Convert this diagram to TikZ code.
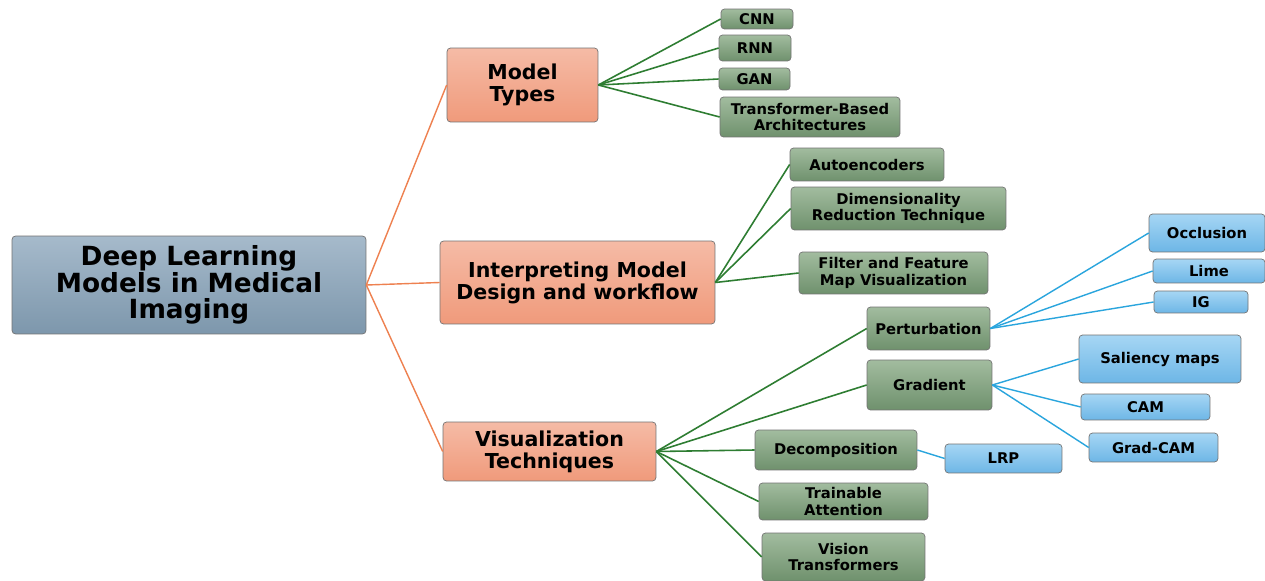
\documentclass[tikz,border=0pt]{standalone}
\usepackage{fontspec}
\setsansfont{DejaVu Sans}
\definecolor{roottop}{HTML}{A6BACB}
\definecolor{rootbot}{HTML}{7D97AC}
\definecolor{orgtop}{HTML}{F5BBA6}
\definecolor{orgbot}{HTML}{F09A7B}
\definecolor{grntop}{HTML}{A2BC9F}
\definecolor{grnbot}{HTML}{6F916D}
\definecolor{blutop}{HTML}{A6D6F4}
\definecolor{blubot}{HTML}{6DB6E6}
\definecolor{orgline}{HTML}{EE8150}
\definecolor{grnline}{HTML}{2E7D32}
\definecolor{bluline}{HTML}{2AA5DD}
\tikzset{
  box/.style={rounded corners=2pt,draw=black!55,align=center,inner sep=0pt,
    font=\sffamily\bfseries\fontsize{8.4}{9.3}\selectfont},
  rootbox/.style={box,top color=roottop,bottom color=rootbot,
    font=\sffamily\bfseries\fontsize{15}{15}\selectfont},
  mainbox/.style={box,top color=orgtop,bottom color=orgbot,
    font=\sffamily\bfseries\fontsize{11.7}{12.5}\selectfont},
  subbox/.style={box,top color=grntop,bottom color=grnbot},
  leafbox/.style={box,top color=blutop,bottom color=blubot},
  orgedge/.style={draw=orgline,line width=0.8pt},
  grnedge/.style={draw=grnline,line width=0.9pt},
  bluedge/.style={draw=bluline,line width=0.8pt}
}
\begin{document}
\begin{tikzpicture}[x=0.02cm,y=-0.02cm]
\useasboundingbox[fill=white] (0,0) rectangle (1265,581);
\node[rootbox,minimum width=7.08cm,minimum height=1.96cm] (dl) at (189,285) {Deep Learning\\Models in Medical\\Imaging};
\node[mainbox,minimum width=3.02cm,minimum height=1.48cm] (mt) at (522.5,85) {Model\\Types};
\node[mainbox,minimum width=5.5cm,minimum height=1.66cm] (imd) at (577.5,282.5) {Interpreting Model\\Design and workflow};
\node[mainbox,minimum width=4.26cm,minimum height=1.18cm] (vt) at (549.5,451.5) {Visualization\\Techniques};

\node[subbox,minimum width=1.44cm,minimum height=0.4cm] (cnn) at (757,19) {CNN};
\node[subbox,minimum width=1.44cm,minimum height=0.52cm] (rnn) at (755,48) {RNN};
\node[subbox,minimum width=1.42cm,minimum height=0.44cm] (gan) at (754.5,79) {GAN};
\node[subbox,minimum width=3.6cm,minimum height=0.8cm] (tba) at (810,117) {Transformer-Based\\Architectures};
\node[subbox,minimum width=3.08cm,minimum height=0.66cm] (ae) at (867,164.5) {Autoencoders};
\node[subbox,minimum width=4.3cm,minimum height=0.86cm] (drt) at (898.5,208.5) {Dimensionality\\Reduction Technique};
\node[subbox,minimum width=3.78cm,minimum height=0.84cm] (ffm) at (893.5,273) {Filter and Feature\\Map Visualization};
\node[subbox,minimum width=2.46cm,minimum height=0.86cm] (pert) at (928.5,328.5) {Perturbation};
\node[subbox,minimum width=2.5cm,minimum height=1cm] (grad) at (929.5,385) {Gradient};
\node[subbox,minimum width=3.24cm,minimum height=0.8cm] (dec) at (836,450) {Decomposition};
\node[subbox,minimum width=3.38cm,minimum height=0.74cm] (ta) at (843.5,501.5) {Trainable\\Attention};
\node[subbox,minimum width=3.26cm,minimum height=0.96cm] (vit) at (843.5,557) {Vision\\Transformers};

\node[leafbox,minimum width=2.32cm,minimum height=0.76cm] (occ) at (1207,233) {Occlusion};
\node[leafbox,minimum width=2.24cm,minimum height=0.48cm] (lime) at (1209,271) {Lime};
\node[leafbox,minimum width=1.88cm,minimum height=0.44cm] (ig) at (1201,302) {IG};
\node[leafbox,minimum width=3.24cm,minimum height=0.96cm] (sal) at (1160,359) {Saliency maps};
\node[leafbox,minimum width=2.58cm,minimum height=0.52cm] (cam) at (1145.5,407) {CAM};
\node[leafbox,minimum width=2.58cm,minimum height=0.58cm] (gcam) at (1153.5,447.5) {Grad-CAM};
\node[leafbox,minimum width=2.34cm,minimum height=0.58cm] (lrp) at (1003.5,458.5) {LRP};

\foreach \m in {mt,imd,vt}\draw[orgedge] (dl.east) -- (\m.west);
\foreach \s in {cnn,rnn,gan,tba}\draw[grnedge] (mt.east) -- (\s.west);
\foreach \s in {ae,drt,ffm}\draw[grnedge] (imd.east) -- (\s.west);
\foreach \s in {pert,grad,dec,ta,vit}\draw[grnedge] (vt.east) -- (\s.west);
\foreach \l in {occ,lime,ig}\draw[bluedge] (pert.east) -- (\l.west);
\foreach \l in {sal,cam,gcam}\draw[bluedge] (grad.east) -- (\l.west);
\draw[bluedge] (dec.east) -- (lrp.west);
\end{tikzpicture}
\end{document}
